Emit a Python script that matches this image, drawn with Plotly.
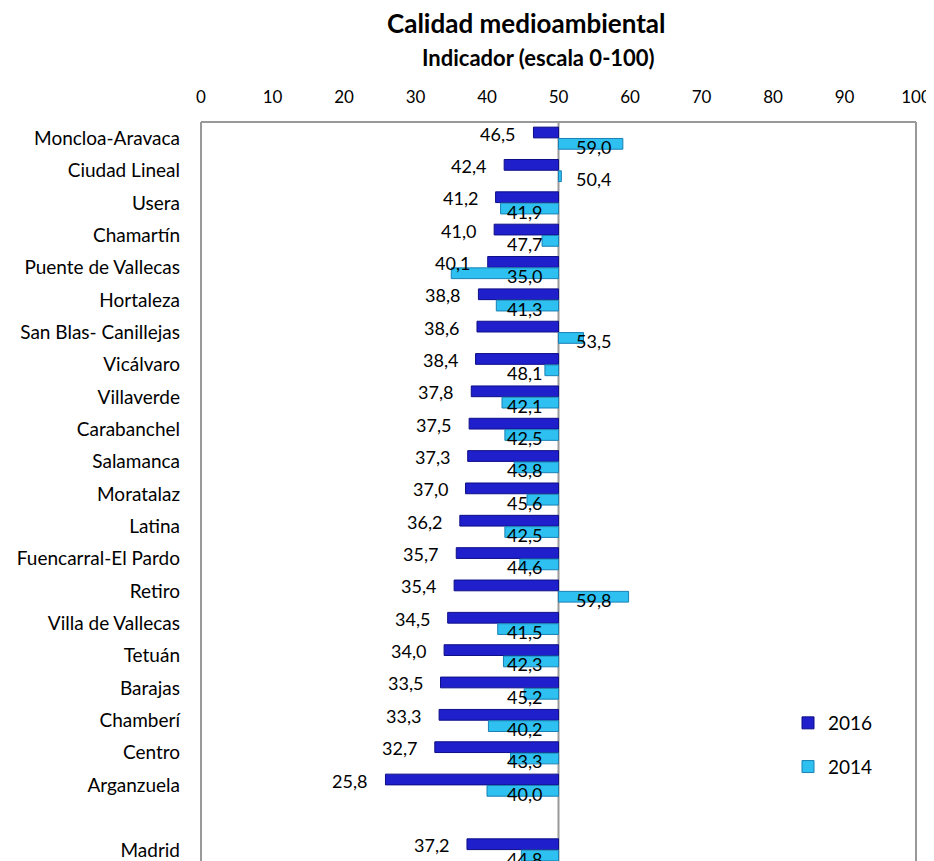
import plotly.graph_objects as go

districts = ["Moncloa-Aravaca", "Ciudad Lineal", "Usera", "Chamartín", "Puente de Vallecas",
             "Hortaleza", "San Blas- Canillejas", "Vicálvaro", "Villaverde", "Carabanchel",
             "Salamanca", "Moratalaz", "Latina", "Fuencarral-El Pardo", "Retiro",
             "Villa de Vallecas", "Tetuán", "Barajas", "Chamberí", "Centro", "Arganzuela", "Madrid"]
positions = list(range(21)) + [22]
v2016 = [46.5, 42.4, 41.2, 41.0, 40.1, 38.8, 38.6, 38.4, 37.8, 37.5, 37.3, 37.0, 36.2, 35.7,
         35.4, 34.5, 34.0, 33.5, 33.3, 32.7, 25.8, 37.2]
v2014 = [59.0, 50.4, 41.9, 47.7, 35.0, 41.3, 53.5, 48.1, 42.1, 42.5, 43.8, 45.6, 42.5, 44.6,
         59.8, 41.5, 42.3, 45.2, 40.2, 43.3, 40.0, 44.8]
base = 50
x_ticks = list(range(0, 101, 10))

# page body has an 8px default margin, so the figure is drawn 8px smaller
OFF = 8
W, H = 934 - OFF, 861 - OFF
L, R, T, B = 201 - OFF, 916 - OFF, 122 - OFF, 861 - OFF
FONT = "Lato"

def fmt(v):
    return f"{v:.1f}".replace(".", ",")

fig = go.Figure()
fig.add_trace(go.Bar(
    name="2016", y=positions, x=[v - base for v in v2016], base=base, orientation="h",
    marker=dict(color="#1f1fcc", line=dict(color="#0e0e86", width=1)),
    legendgroup="a"))
fig.add_trace(go.Bar(
    name="2014", y=positions, x=[v - base for v in v2014], base=base, orientation="h",
    marker=dict(color="#2dc0f0", line=dict(color="#1a80b4", width=1)),
    legendgroup="b"))

ann = []
off = 0.175
LBL = 18
for p, v in zip(positions, v2016):
    ann.append(dict(x=v, y=p - off, xref="x", yref="y", text=fmt(v), showarrow=False,
                    xanchor="right", xshift=-16, yshift=-1,
                    font=dict(family=FONT, size=LBL, color="black")))
for p, v in zip(positions, v2014):
    if v < base:
        ann.append(dict(x=base, y=p + off, xref="x", yref="y", text=fmt(v), showarrow=False,
                        xanchor="right", xshift=-15, yshift=-3,
                        font=dict(family=FONT, size=LBL, color="black")))
    else:
        ann.append(dict(x=base, y=p + off, xref="x", yref="y", text=fmt(v), showarrow=False,
                        xanchor="left", xshift=15, yshift=-3,
                        font=dict(family=FONT, size=LBL, color="black")))

def px_x(px):
    return (px - OFF - L) / (R - L)

def px_y(py):
    return (B - (py - OFF)) / (B - T)

ann.append(dict(x=px_x(526), y=px_y(23), xref="paper", yref="paper", text="<b>Calidad medioambiental</b>",
                showarrow=False, xanchor="center", yanchor="middle",
                font=dict(family=FONT, size=26, color="black")))
ann.append(dict(x=px_x(538), y=px_y(57), xref="paper", yref="paper", text="<b>Indicador (escala 0-100)</b>",
                showarrow=False, xanchor="center", yanchor="middle",
                font=dict(family=FONT, size=22, color="black")))

span = (B - T) / 32.35
fig.update_layout(
    width=W, height=H,
    margin=dict(l=L, r=W - R, t=T, b=H - B, pad=0),
    paper_bgcolor="white", plot_bgcolor="white",
    barmode="group", bargap=0.3, bargroupgap=0.05,
    annotations=ann,
    showlegend=True,
    legend=dict(x=px_x(788), y=px_y(704), xanchor="left", yanchor="top",
                font=dict(family=FONT, size=19, color="black"),
                tracegroupgap=16, traceorder="grouped", itemwidth=30,
                bgcolor="rgba(0,0,0,0)"),
    xaxis=dict(side="top", range=[0, 100], tickvals=x_ticks, ticktext=[str(t) for t in x_ticks],
               showgrid=False, zeroline=False, showline=False, ticks="",
               ticklabelstandoff=15, automargin=False,
               tickfont=dict(family=FONT, size=17, color="black")),
    yaxis=dict(range=[-0.5 + span, -0.5], tickvals=positions, ticktext=districts,
               showgrid=False, zeroline=False, showline=False, ticks="",
               ticklabelstandoff=20, automargin=False,
               tickfont=dict(family=FONT, size=19, color="black")),
    shapes=[
        dict(type="line", xref="paper", yref="paper", x0=0, x1=0, y0=0, y1=1,
             line=dict(color="#999999", width=2)),
        dict(type="line", xref="paper", yref="paper", x0=0, x1=1, y0=1, y1=1,
             line=dict(color="#999999", width=2)),
        dict(type="line", xref="paper", yref="paper", x0=1, x1=1, y0=0, y1=1,
             line=dict(color="#999999", width=2)),
        dict(type="line", xref="x", yref="paper", x0=base, x1=base, y0=0, y1=1,
             line=dict(color="#999999", width=2), layer="below"),
    ],
)

fig.write_html("out.html")
